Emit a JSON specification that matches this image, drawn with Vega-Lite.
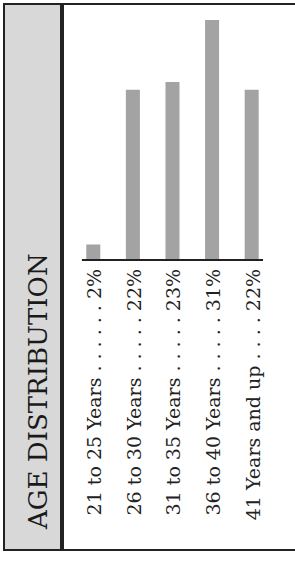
{
  "$schema": "https://vega.github.io/schema/vega-lite/v6.json",
  "padding": {"left": 3, "top": 3, "right": 0, "bottom": 0},
  "background": "white",
  "spacing": 0,
  "datasets": {
    "ages": [
      {"group": "21 to 25 Years", "label": "21 to 25 Years . . . . . . 2%", "pct": 2},
      {"group": "26 to 30 Years", "label": "26 to 30 Years . . . . . 22%", "pct": 22},
      {"group": "31 to 35 Years", "label": "31 to 35 Years . . . . . 23%", "pct": 23},
      {"group": "36 to 40 Years", "label": "36 to 40 Years . . . . . 31%", "pct": 31},
      {"group": "41 Years and up", "label": "41 Years and up . . . . 22%", "pct": 22}
    ],
    "heading": [{"title": "AGE DISTRIBUTION"}]
  },
  "hconcat": [
    {
      "width": 57,
      "height": 546,
      "view": {"fill": "#d8d8d8", "stroke": "#222222", "strokeWidth": 2},
      "data": {"name": "heading"},
      "mark": {"type": "text", "font": "DejaVu Serif", "fontSize": 26, "angle": 270, "align": "left", "baseline": "middle", "color": "#1a1a1a", "dy": 6},
      "encoding": {
        "text": {"field": "title"},
        "y": {"datum": -34.75, "type": "quantitative", "scale": {"domain": [-37.47, 33.07], "nice": false, "zero": false}, "axis": null}
      }
    },
    {
      "width": 236,
      "height": 546,
      "view": {"fill": "white", "stroke": "#222222", "strokeWidth": 2},
      "data": {"name": "ages"},
      "encoding": {
        "x": {"field": "group", "type": "nominal", "sort": null, "axis": null,
              "scale": {"paddingInner": 0.646, "paddingOuter": 0.803, "align": 0.366}}
      },
      "layer": [
        {
          "mark": {"type": "bar", "color": "#a3a3a3"},
          "encoding": {
            "y": {"field": "pct", "type": "quantitative", "scale": {"domain": [-37.47, 33.07], "nice": false, "zero": false}, "axis": null}
          }
        },
        {
          "mark": {"type": "text", "font": "DejaVu Serif", "fontSize": 19, "angle": 270, "align": "right", "baseline": "middle", "color": "#222222", "dy": 2},
          "encoding": {
            "text": {"field": "label"},
            "y": {"datum": -1.16, "type": "quantitative"}
          }
        },
        {
          "data": {"values": [{"a": 1}]},
          "mark": {"type": "rule", "color": "#222222", "strokeWidth": 2},
          "encoding": {
            "x": {"datum": "21 to 25 Years", "bandPosition": -0.31},
            "x2": {"datum": "41 Years and up", "bandPosition": 1.31},
            "y": {"datum": 0, "type": "quantitative"}
          }
        }
      ]
    }
  ]
}
